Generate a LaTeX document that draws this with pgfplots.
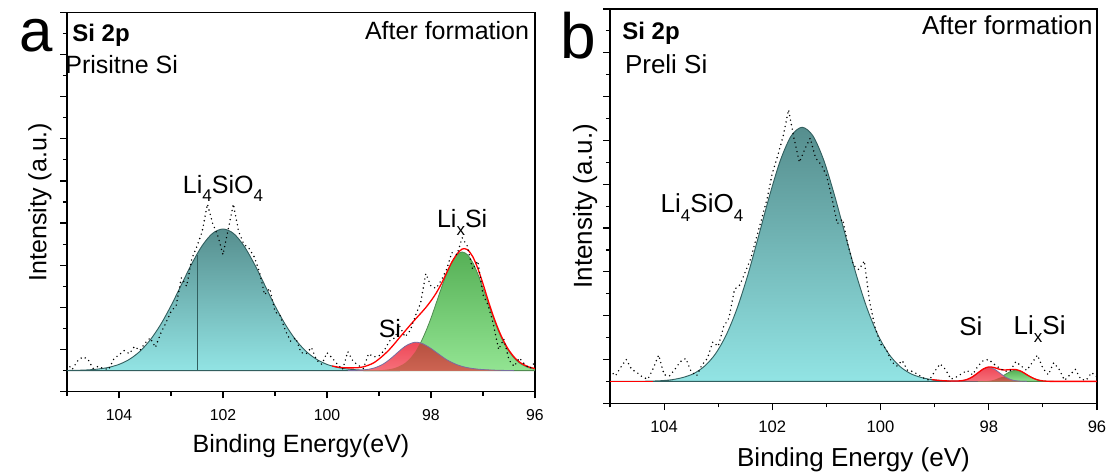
\documentclass[border=0pt]{standalone}
\usepackage{pgfplots}
\pgfplotsset{compat=1.18}
\usepackage{fontspec}
\setmainfont{Liberation Sans}

\definecolor{tealtop}{RGB}{86,142,142}
\definecolor{tealbot}{RGB}{146,228,228}
\definecolor{tealline}{RGB}{50,95,95}
\definecolor{greentop}{RGB}{86,176,86}
\definecolor{greenbot}{RGB}{146,228,146}
\definecolor{greenline}{RGB}{80,140,80}
\definecolor{redtop}{RGB}{238,72,88}
\definecolor{redbot}{RGB}{246,112,122}
\definecolor{redline}{RGB}{120,110,160}
\definecolor{browntop}{RGB}{182,80,64}
\definecolor{brownbot}{RGB}{205,100,82}

\newcommand{\sub}[1]{\raisebox{-0.32em}{\fontsize{8.5}{9}\selectfont #1}}

\pgfplotsset{
 xps/.style={scale only axis, x dir=reverse, xmin=96, xmax=105, ymin=-1, ymax=17,
  axis line style={line width=0.6pt},
  tick style={black, line width=0.6pt},
  tick align=outside, xtick pos=left, ytick pos=left,
  major tick length=3.4pt, minor tick length=2pt,
  xtick={96,98,100,102,104}, minor xtick={97,99,101,103,105},
  ytick={-1,1,...,17}, minor ytick={0,2,...,16}, yticklabels={},
  /pgf/number format/assume math mode=true,
  xticklabel shift=2pt,
  xlabel style={at={(axis description cs:0.5,0)}, anchor=base},
  ylabel style={anchor=base},
 },
 raw/.style={black, line width=0.8pt, line cap=round, dash pattern=on 0pt off 2.3pt},
 env/.style={red, line width=0.65pt, smooth},
 tealfill/.style={draw=tealline, line width=0.45pt, top color=tealtop, bottom color=tealbot, smooth},
 greenfill/.style={draw=greenline, line width=0.4pt, top color=greentop, bottom color=greenbot, smooth},
 redfill/.style={draw=none, top color=redtop, bottom color=redbot, smooth},
 brownfill/.style={draw=none, top color=browntop, bottom color=brownbot, smooth},
 redoutline/.style={redline, line width=0.4pt, smooth},
}

% ---------------- panel a data ----------------
\pgfplotstableread{
x y
105.0 0.006
104.8 0.015
104.6 0.034
104.4 0.075
104.2 0.153
104.0 0.295
103.8 0.535
103.6 0.909
103.4 1.454
103.2 2.182
103.0 3.076
102.8 4.076
102.6 5.072
102.4 5.930
102.2 6.513
102.0 6.720
101.8 6.513
101.6 5.930
101.4 5.072
101.2 4.076
101.0 3.076
100.8 2.182
100.6 1.454
100.4 0.909
100.2 0.535
100.0 0.295
99.8 0.153
99.6 0.075
99.4 0.034
99.2 0.015
99.0 0.006
98.8 0.002
98.6 0.0
}\aTeal

\pgfplotstableread{
x y
99.6 0.0
99.5 0.008
99.4 0.018
99.3 0.035
99.2 0.065
99.1 0.12
99.0 0.21
98.9 0.34
98.8 0.52
98.7 0.73
98.6 0.95
98.5 1.15
98.4 1.28
98.3 1.35
98.2 1.31
98.1 1.20
98.0 1.05
97.9 0.87
97.8 0.69
97.7 0.52
97.6 0.39
97.5 0.28
97.4 0.20
97.3 0.14
97.2 0.10
97.1 0.07
97.0 0.05
96.9 0.035
96.8 0.025
96.7 0.015
96.6 0.01
96.5 0.005
96.4 0.0
}\aRed

\pgfplotstableread{
x y
99.3 0.0
99.2 0.004
99.1 0.008
99.0 0.017
98.9 0.034
98.8 0.066
98.7 0.12
98.6 0.22
98.5 0.36
98.4 0.59
98.3 0.90
98.2 1.31
98.1 1.20
98.0 1.05
97.9 0.87
97.8 0.69
97.7 0.52
97.6 0.39
97.5 0.28
97.4 0.20
97.3 0.14
97.2 0.10
97.1 0.07
97.0 0.05
96.9 0.035
96.8 0.025
96.7 0.015
96.6 0.01
96.5 0.005
96.4 0.0
}\aOver

\pgfplotstableread{
x y
99.3 0.0
99.2 0.004
99.1 0.008
99.0 0.017
98.9 0.034
98.8 0.066
98.7 0.12
98.6 0.22
98.5 0.36
98.4 0.59
98.3 0.90
98.2 1.32
98.1 1.86
98.0 2.49
97.9 3.20
97.8 3.92
97.7 4.59
97.6 5.14
97.5 5.50
97.4 5.63
97.3 5.50
97.2 5.14
97.1 4.59
97.0 3.92
96.9 3.20
96.8 2.49
96.7 1.86
96.6 1.32
96.5 0.90
96.4 0.59
96.3 0.36
96.2 0.22
96.1 0.12
96.0 0.066
}\aGreen

\pgfplotstableread{
x y
99.9 0.22
99.8 0.17
99.7 0.14
99.6 0.13
99.5 0.13
99.4 0.14
99.3 0.18
99.2 0.26
99.1 0.37
99.0 0.55
98.9 0.76
98.8 1.00
98.7 1.28
98.6 1.58
98.5 1.87
98.4 2.16
98.3 2.44
98.2 2.71
98.1 2.99
98.0 3.31
97.9 3.68
97.8 4.12
97.7 4.64
97.6 5.14
97.5 5.53
97.4 5.77
97.3 5.74
97.2 5.42
97.1 4.85
97.0 4.12
96.9 3.32
96.8 2.58
96.7 1.93
96.6 1.39
96.5 0.96
96.4 0.64
96.3 0.41
96.2 0.26
96.1 0.16
96.0 0.10
}\aEnv

\pgfplotstableread{
x y
105.0 0.35
104.9 0.05
104.8 0.45
104.7 0.65
104.6 0.55
104.5 0.10
104.4 0.20
104.3 0.10
104.2 0.05
104.1 0.55
104.0 0.75
103.9 0.95
103.8 0.80
103.7 1.15
103.6 0.95
103.5 1.30
103.4 1.55
103.3 1.10
103.2 1.75
103.1 2.25
103.0 2.80
102.9 3.10
102.8 4.40
102.7 4.00
102.6 5.30
102.5 5.90
102.4 6.60
102.3 7.90
102.2 7.00
102.1 6.40
102.0 5.50
101.9 6.70
101.8 7.90
101.7 6.60
101.6 6.00
101.5 5.80
101.4 5.40
101.3 4.70
101.2 3.60
101.1 3.90
101.0 2.80
100.9 2.60
100.8 1.90
100.7 1.40
100.6 1.55
100.5 0.85
100.4 0.80
100.3 1.10
100.2 0.50
100.1 0.30
100.0 0.85
99.9 0.60
99.8 0.30
99.7 0.05
99.6 0.90
99.5 0.45
99.4 0.25
99.3 0.10
99.2 0.80
99.1 0.65
99.0 0.70
98.9 0.95
98.8 1.40
98.7 1.55
98.6 2.10
98.5 1.60
98.4 1.90
98.3 2.60
98.2 3.20
98.1 4.60
98.0 4.00
97.9 3.90
97.8 4.30
97.7 4.80
97.6 5.60
97.5 5.50
97.4 6.30
97.3 5.90
97.2 4.80
97.1 5.20
97.0 3.60
96.9 3.10
96.8 2.20
96.7 1.00
96.6 1.50
96.5 0.50
96.4 0.20
96.3 0.60
96.2 0.30
96.1 0.10
96.0 0.40
}\aRaw

% ---------------- panel b data ----------------
\pgfplotstableread{
x y
105.0 0.0
104.65 0.0015
104.45 0.005
104.25 0.013
104.05 0.033
103.85 0.079
103.65 0.18
103.45 0.36
103.25 0.70
103.05 1.26
102.85 2.13
102.65 3.34
102.45 4.88
102.25 6.67
102.05 8.49
101.85 10.10
101.65 11.21
101.45 11.60
101.25 11.21
101.05 10.10
100.85 8.49
100.65 6.67
100.45 4.88
100.25 3.34
100.05 2.13
99.85 1.26
99.65 0.70
99.45 0.36
99.25 0.18
99.05 0.079
98.85 0.033
98.65 0.013
98.45 0.005
98.25 0.0015
98.05 0.0
}\bTeal

\pgfplotstableread{
x y
98.7 0.0
98.6 0.007
98.5 0.028
98.4 0.087
98.3 0.208
98.2 0.388
98.1 0.565
98.0 0.640
97.9 0.565
97.8 0.388
97.7 0.208
97.6 0.087
97.5 0.028
97.4 0.007
97.3 0.0
}\bRed

\pgfplotstableread{
x y
98.2 0.0
98.1 0.006
98.0 0.022
97.9 0.069
97.8 0.166
97.7 0.208
97.6 0.087
97.5 0.028
97.4 0.007
97.3 0.0
}\bOver

\pgfplotstableread{
x y
98.2 0.0
98.1 0.006
98.0 0.022
97.9 0.069
97.8 0.166
97.7 0.309
97.6 0.450
97.5 0.510
97.4 0.450
97.3 0.309
97.2 0.166
97.1 0.069
97.0 0.022
96.9 0.006
96.8 0.0
}\bGreen

\pgfplotstableread{
x y
99.05 0.08
98.9 0.04
98.8 0.025
98.7 0.015
98.6 0.017
98.5 0.033
98.4 0.09
98.3 0.21
98.2 0.39
98.1 0.57
98.0 0.66
97.9 0.63
97.8 0.55
97.7 0.52
97.6 0.54
97.5 0.54
97.4 0.46
97.3 0.31
97.2 0.17
97.1 0.07
97.0 0.022
96.9 0.006
96.8 0.0
96.0 0.0
}\bEnv

\pgfplotstableread{
x y
105.0 0.0
104.2 0.0
}\bEnvL

\pgfplotstableread{
x y
105.0 0.50
104.9 0.25
104.8 0.65
104.7 1.00
104.6 0.55
104.5 0.40
104.4 0.20
104.3 0.10
104.2 0.60
104.1 1.20
104.0 0.30
103.9 0.25
103.8 0.55
103.7 0.90
103.6 1.05
103.5 0.45
103.4 0.25
103.3 0.75
103.2 1.05
103.1 1.80
103.0 1.60
102.9 2.50
102.8 2.90
102.7 4.20
102.6 4.40
102.5 5.00
102.4 5.60
102.3 6.50
102.2 7.40
102.1 8.30
102.0 9.50
101.9 10.30
101.8 11.20
101.7 12.40
101.6 11.10
101.5 10.00
101.4 10.60
101.3 11.10
101.2 10.20
101.1 9.90
101.0 9.40
100.9 8.40
100.8 7.20
100.7 7.40
100.6 6.20
100.5 5.30
100.4 5.10
100.3 5.50
100.2 3.60
100.1 2.45
100.0 1.70
99.9 1.50
99.8 0.90
99.7 0.70
99.6 0.95
99.5 0.50
99.4 0.45
99.3 0.30
99.2 0.15
99.1 0.05
99.0 0.45
98.9 0.80
98.8 0.55
98.7 0.10
98.6 0.20
98.5 0.35
98.4 0.50
98.3 0.30
98.2 0.70
98.1 0.95
98.0 1.00
97.9 0.78
97.8 0.60
97.7 0.45
97.6 0.50
97.5 0.90
97.4 0.70
97.3 0.50
97.2 0.85
97.1 1.20
97.0 0.60
96.9 0.30
96.8 0.85
96.7 0.55
96.6 0.05
96.5 0.30
96.4 0.55
96.3 0.10
96.2 0.05
96.1 0.40
96.0 0.20
}\bRaw

\begin{document}
\begin{tikzpicture}
\useasboundingbox (0,0) rectangle (555pt,237pt);

% ================= panel a =================
\begin{axis}[xps, at={(33.5pt,41.15pt)}, anchor=south west, width=234pt, height=189.7pt,
  xticklabel style={font=\fontsize{7.9}{9}\selectfont},
  xlabel={Binding Energy(eV)},
  xlabel style={font=\fontsize{12.5}{15}\selectfont, yshift=-30.6pt},
  ylabel={Intensity (a.u.)},
  ylabel style={font=\fontsize{12.5}{15}\selectfont, at={(axis description cs:-0.044,0.5)}}]
\addplot[tealfill] table {\aTeal} \closedcycle;
\addplot[tealline, line width=0.4pt] coordinates {(102.5,0) (102.5,5.5)};
\addplot[greenfill] table {\aGreen} \closedcycle;
\addplot[redfill] table {\aRed} \closedcycle;
\addplot[brownfill] table {\aOver} \closedcycle;
\addplot[redoutline] table {\aRed};
\addplot[env] table {\aEnv};
\addplot[raw] table {\aRaw};
\node[font=\fontsize{12.5}{15}\selectfont, anchor=base] at (axis cs:102.0,8.4) {Li\sub{4}SiO\sub{4}};
\node[font=\fontsize{12.5}{15}\selectfont, anchor=base] at (axis cs:97.4,6.77) {Li\sub{x}Si};
\node[font=\fontsize{12.5}{15}\selectfont, anchor=base] at (axis cs:98.79,1.55) {Si};
\end{axis}

% ================= panel b =================
\begin{axis}[xps, at={(305pt,35.35pt)}, anchor=south west, width=243.5pt, height=197.15pt,
  xticklabel style={font=\fontsize{8.3}{9.5}\selectfont},
  xlabel={Binding Energy (eV)},
  xlabel style={font=\fontsize{13}{15.5}\selectfont, yshift=-31.6pt},
  ylabel={Intensity (a.u.)},
  ylabel style={font=\fontsize{13}{15.5}\selectfont, at={(axis description cs:-0.037,0.5)}}]
\addplot[tealfill] table {\bTeal} \closedcycle;
\addplot[greenfill] table {\bGreen} \closedcycle;
\addplot[redfill] table {\bRed} \closedcycle;
\addplot[brownfill] table {\bOver} \closedcycle;
\addplot[redoutline] table {\bRed};
\addplot[env] table {\bEnv};
\addplot[red, line width=0.5pt] table {\bEnvL};
\addplot[raw] table {\bRaw};
\node[font=\fontsize{13}{15.5}\selectfont, anchor=base] at (axis cs:103.3,7.7) {Li\sub{4}SiO\sub{4}};
\node[font=\fontsize{13}{15.5}\selectfont, anchor=base] at (axis cs:98.33,2.08) {Si};
\node[font=\fontsize{13}{15.5}\selectfont, anchor=base] at (axis cs:97.06,2.15) {Li\sub{x}Si};
\end{axis}

% ================= panel texts =================
\node[font=\fontsize{30}{32}\selectfont, anchor=base west] at (6.3pt,211pt) {a};
\node[font=\fontsize{32}{34}\selectfont, anchor=base west] at (276.6pt,207.5pt) {b};
\node[font=\bfseries\fontsize{12}{14}\selectfont, anchor=base west, inner sep=0pt] at (36pt,216.15pt) {Si 2p};
\node[font=\fontsize{12.5}{15}\selectfont, anchor=base west, inner sep=0pt] at (32.5pt,200pt) {Prisitne Si};
\node[font=\fontsize{12.5}{15}\selectfont, anchor=base east, inner sep=0pt] at (264.7pt,217pt) {After formation};
\node[font=\bfseries\fontsize{12}{14}\selectfont, anchor=base west, inner sep=0pt] at (311pt,217.35pt) {Si 2p};
\node[font=\fontsize{13}{15.5}\selectfont, anchor=base west, inner sep=0pt] at (312.3pt,200pt) {Preli Si};
\node[font=\fontsize{13}{15.5}\selectfont, anchor=base east, inner sep=0pt] at (546.5pt,219.5pt) {After formation};
\end{tikzpicture}
\end{document}
